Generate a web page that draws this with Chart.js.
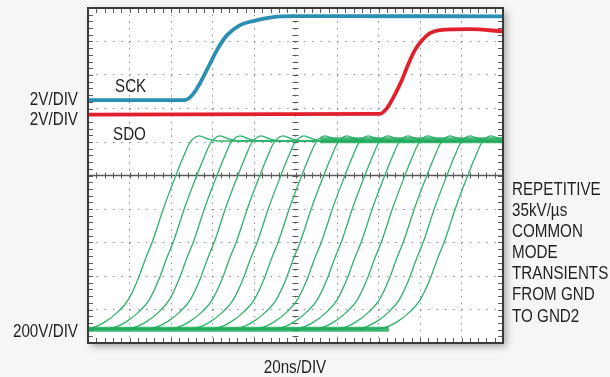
<!DOCTYPE html>
<html>
<head>
<meta charset="utf-8">
<script src="https://cdn.jsdelivr.net/npm/chart.js@4.4.1/dist/chart.umd.min.js"></script>
<style>
body{margin:0;background:#f6f6f6;}
#wrap{position:relative;width:610px;height:377px;overflow:hidden;}
.t{position:absolute;font-family:"Liberation Sans",Arial,sans-serif;font-size:19px;line-height:19px;color:#231f20;transform:scaleX(0.8);transform-origin:0 0;white-space:nowrap;}
.r{width:100px;text-align:right;transform-origin:100% 0;}
.c{width:100px;text-align:center;transform-origin:50% 0;}
</style>
</head>
<body>
<div id="wrap">
<canvas id="scope" width="610" height="377"></canvas>
<div class="t" style="left:115px;top:76px">SCK</div>
<div class="t" style="left:113px;top:124px">SDO</div>
<div class="t r" style="left:-22px;top:89px">2V/DIV</div>
<div class="t r" style="left:-22px;top:109px">2V/DIV</div>
<div class="t r" style="left:-22px;top:321px">200V/DIV</div>
<div class="t c" style="left:245px;top:357px">20ns/DIV</div>
<div class="t" style="left:512px;top:178px;line-height:21.1px">REPETITIVE<br>35kV/µs<br>COMMON<br>MODE<br>TRANSIENTS<br>FROM GND<br>TO GND2</div>
</div>
<script>
// timebase 20ns/DIV; levels are in screen divisions (0 = bottom graticule line)
const sckTime  = [0, 46.7, 49.1, 52.5, 57.3, 62.2, 67.0, 73.3, 79.5, 89.2, 98.8, 200];
const sckLevel = [7.25, 7.25, 7.33, 7.6, 8.15, 8.75, 9.19, 9.49, 9.61, 9.73, 9.76, 9.75];

const sdoTime  = [0, 140.7, 144.1, 147.0, 151.3, 154.2, 157.6, 161.0, 164.8, 169.6, 184.1, 200];
const sdoLevel = [6.82, 6.84, 7.01, 7.31, 7.85, 8.30, 8.75, 9.04, 9.25, 9.34, 9.37, 9.30];

// common mode transients: time at which each one crosses centre screen
const cmtCross = [42.4, 52.5, 62.2, 72.3, 82.9, 93.0, 103.1, 113.7, 123.9, 133.5, 143.1, 152.8, 163.4, 173.0, 183.1];
const edgeTime  = [-48, -40.5, -34.2, -28.0, -23.1, -18.3, -14.9, -11.1, -5.8, 0, 3.9, 6.3, 8.2, 11.1, 15.4, 20.2];
const edgeLevel = [0.41, 0.45, 0.63, 0.93, 1.28, 1.90, 2.48, 3.07, 4.06, 5.01, 5.61, 5.94, 6.09, 6.18, 6.09, 6.03];
const gndLevel = 0.41;
const topLevel = 6.05;

const teal = '#2a8fb2';
const red = '#e0202c';
const green = '#2fb26a';
const band = 'rgba(30,170,92,0.85)';

function pts(xs, ys) {
    return xs.map((t, i) => ({x: t, y: ys[i]}));
}

const datasets = [];

// noise bands of the overlaid green traces
datasets.push({data: [{x: 0, y: gndLevel}, {x: 145, y: gndLevel}], borderColor: band, borderWidth: 5});
datasets.push({data: [{x: 112, y: topLevel}, {x: 200, y: topLevel}], borderColor: band, borderWidth: 6});

cmtCross.forEach(c => {
    const d = [{x: -60, y: gndLevel}];
    edgeTime.forEach((t, k) => d.push({x: c + t, y: edgeLevel[k]}));
    d.push({x: 260, y: topLevel});
    datasets.push({data: d, borderColor: green, borderWidth: 1.3});
});

datasets.push({data: pts(sdoTime, sdoLevel), borderColor: red, borderWidth: 3.8});
datasets.push({data: pts(sckTime, sckLevel), borderColor: teal, borderWidth: 3.8});

const scopeFace = {
    id: 'scopeFace',
    beforeDraw(chart) {
        const {ctx, chartArea: a} = chart;
        ctx.save();
        ctx.shadowColor = 'rgba(0,0,0,0.35)';
        ctx.shadowBlur = 7;
        ctx.shadowOffsetX = 3;
        ctx.shadowOffsetY = 3;
        ctx.fillStyle = '#fff';
        ctx.fillRect(a.left, a.top, a.right - a.left, a.bottom - a.top);
        ctx.restore();
    },
    beforeDatasetsDraw(chart) {
        const {ctx, chartArea: a, scales: {x, y}} = chart;
        const yc = y.getPixelForValue(5);
        const xc = x.getPixelForValue(100);
        ctx.save();
        ctx.strokeStyle = '#5a5a5a';
        ctx.lineWidth = 1.5;
        ctx.beginPath();
        ctx.moveTo(a.left, yc);
        ctx.lineTo(a.right, yc);
        ctx.stroke();
        // minor ticks, 5 per division
        ctx.lineWidth = 1;
        ctx.beginPath();
        for (let k = 1; k < 50; k++) {
            const px = Math.round(x.getPixelForValue(k * 4)) + 0.5;
            ctx.moveTo(px, a.top); ctx.lineTo(px, a.top + 5);
            ctx.moveTo(px, a.bottom); ctx.lineTo(px, a.bottom - 5);
            ctx.moveTo(px, yc - 3); ctx.lineTo(px, yc + 3);
            const py = Math.round(y.getPixelForValue(k * 0.2)) + 0.5;
            ctx.moveTo(a.left, py); ctx.lineTo(a.left + 5, py);
            ctx.moveTo(a.right, py); ctx.lineTo(a.right - 5, py);
            ctx.moveTo(xc - 3, py); ctx.lineTo(xc + 3, py);
        }
        ctx.stroke();
        ctx.restore();
    },
    afterDatasetsDraw(chart) {
        const {ctx, chartArea: a} = chart;
        ctx.save();
        ctx.strokeStyle = '#3a3a3a';
        ctx.lineWidth = 2;
        ctx.strokeRect(a.left, a.top, a.right - a.left, a.bottom - a.top);
        ctx.restore();
    }
};

new Chart(document.getElementById('scope'), {
    type: 'line',
    data: {datasets: datasets},
    options: {
        responsive: false,
        animation: false,
        devicePixelRatio: 1,
        layout: {padding: {left: 88, top: 8, right: 107, bottom: 34}},
        elements: {
            point: {radius: 0},
            line: {cubicInterpolationMode: 'monotone', fill: false}
        },
        plugins: {
            legend: {display: false},
            tooltip: {enabled: false}
        },
        scales: {
            x: {
                type: 'linear',
                min: 0,
                max: 200,
                ticks: {display: false, stepSize: 20},
                grid: {color: '#8c8c8c', lineWidth: 1, drawTicks: false},
                border: {display: false, dash: [1.5, 5.2]}
            },
            y: {
                type: 'linear',
                min: 0,
                max: 10,
                ticks: {display: false, stepSize: 1},
                grid: {color: '#8c8c8c', lineWidth: 1, drawTicks: false},
                border: {display: false, dash: [1.5, 6.8]}
            }
        }
    },
    plugins: [scopeFace]
});
</script>
</body>
</html>
